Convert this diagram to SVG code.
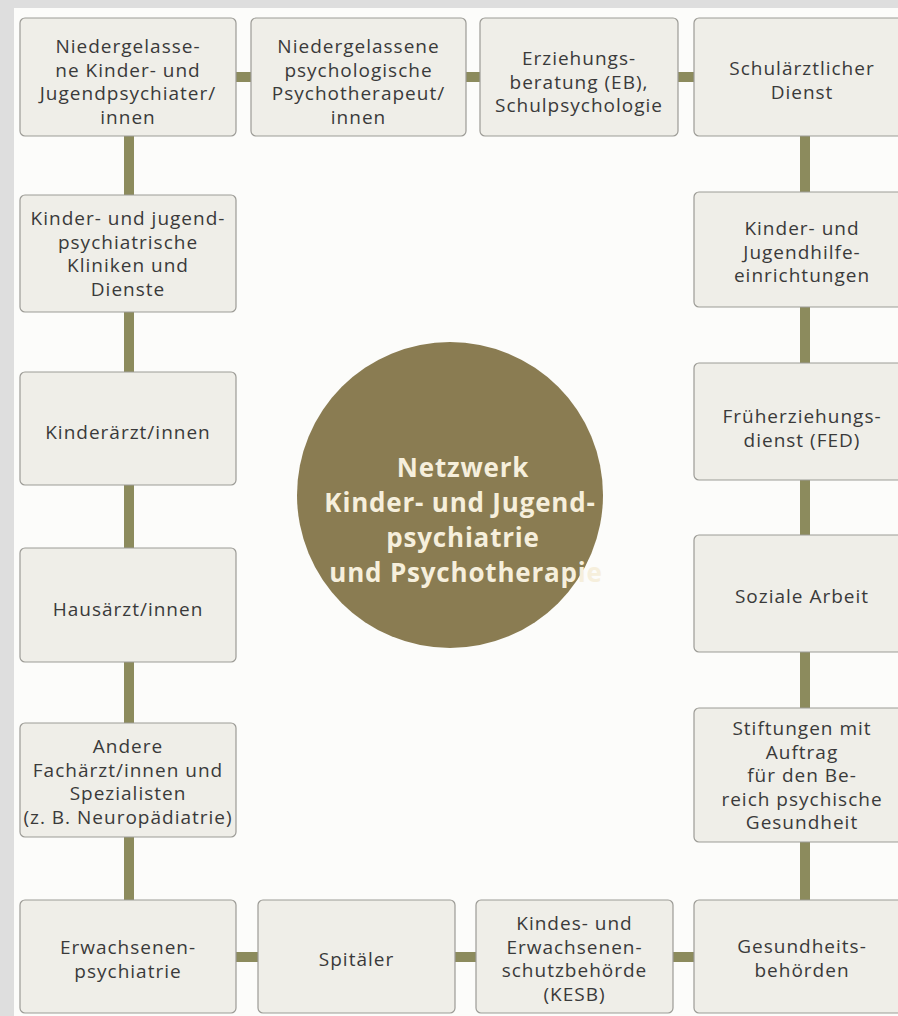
<svg xmlns="http://www.w3.org/2000/svg" width="898" height="1016" viewBox="0 0 898 1016">
<style>
.box{fill:#efeee8;stroke:#9c9b96;stroke-width:1.2}
.t{font-family:"Open Sans","Liberation Sans",sans-serif;font-size:19px;letter-spacing:1px;fill:#3a3a3a;text-anchor:middle}
.c{font-family:"Open Sans","Liberation Sans",sans-serif;font-size:26px;letter-spacing:0.8px;font-weight:bold;fill:#f6efdc;text-anchor:middle}
.con{fill:#8c8b5d}
</style>
<rect x="0" y="0" width="898" height="1016" fill="#dedede"/>
<rect x="14" y="8" width="884" height="1008" fill="#fcfcfa"/>
<g id="connectors">
<rect class="con" x="234" y="72" width="19" height="10"/>
<rect class="con" x="464" y="72" width="18" height="10"/>
<rect class="con" x="676" y="72" width="20" height="10"/>
<rect class="con" x="124" y="134" width="10" height="63"/>
<rect class="con" x="124" y="310" width="10" height="64"/>
<rect class="con" x="124" y="483" width="10" height="67"/>
<rect class="con" x="124" y="660" width="10" height="65"/>
<rect class="con" x="124" y="835" width="10" height="67"/>
<rect class="con" x="800" y="134" width="10" height="60"/>
<rect class="con" x="800" y="305" width="10" height="60"/>
<rect class="con" x="800" y="478" width="10" height="59"/>
<rect class="con" x="800" y="650" width="10" height="60"/>
<rect class="con" x="800" y="840" width="10" height="62"/>
<rect class="con" x="234" y="952" width="26" height="10"/>
<rect class="con" x="453" y="952" width="25" height="10"/>
<rect class="con" x="671" y="952" width="25" height="10"/>
</g>
<g id="n1"><rect class="box" x="20" y="18" width="216" height="118" rx="5"/>
<text class="t" x="128" y="53">Niedergelasse-</text><text class="t" x="128" y="76.5">ne Kinder- und</text><text class="t" x="128" y="100">Jugendpsychiater/</text><text class="t" x="128" y="123.5">innen</text></g>
<g id="n2"><rect class="box" x="251" y="18" width="215" height="118" rx="5"/>
<text class="t" x="358.5" y="53">Niedergelassene</text><text class="t" x="358.5" y="76.5">psychologische</text><text class="t" x="358.5" y="100">Psychotherapeut/</text><text class="t" x="358.5" y="123.5">innen</text></g>
<g id="n3"><rect class="box" x="480" y="18" width="198" height="118" rx="5"/>
<text class="t" x="579" y="65">Erziehungs-</text><text class="t" x="579" y="88.5">beratung (EB),</text><text class="t" x="579" y="112">Schulpsychologie</text></g>
<g id="n4"><rect class="box" x="694" y="18" width="216" height="118" rx="5"/>
<text class="t" x="802" y="75">Schulärztlicher</text><text class="t" x="802" y="98.5">Dienst</text></g>
<g id="n5"><rect class="box" x="20" y="195" width="216" height="117" rx="5"/>
<text class="t" x="128" y="225">Kinder- und jugend-</text><text class="t" x="128" y="248.5">psychiatrische</text><text class="t" x="128" y="272">Kliniken und</text><text class="t" x="128" y="295.5">Dienste</text></g>
<g id="n6"><rect class="box" x="20" y="372" width="216" height="113" rx="5"/>
<text class="t" x="128" y="439">Kinderärzt/innen</text></g>
<g id="n7"><rect class="box" x="20" y="548" width="216" height="114" rx="5"/>
<text class="t" x="128" y="616">Hausärzt/innen</text></g>
<g id="n8"><rect class="box" x="20" y="723" width="216" height="114" rx="5"/>
<text class="t" x="128" y="753">Andere</text><text class="t" x="128" y="776.5">Fachärzt/innen und</text><text class="t" x="128" y="800">Spezialisten</text><text class="t" x="128" y="823.5">(z. B. Neuropädiatrie)</text></g>
<g id="n9"><rect class="box" x="20" y="900" width="216" height="113" rx="5"/>
<text class="t" x="128" y="954">Erwachsenen-</text><text class="t" x="128" y="977.5">psychiatrie</text></g>
<g id="n10"><rect class="box" x="258" y="900" width="197" height="113" rx="5"/>
<text class="t" x="356.5" y="966">Spitäler</text></g>
<g id="n11"><rect class="box" x="476" y="900" width="197" height="113" rx="5"/>
<text class="t" x="574.5" y="930">Kindes- und</text><text class="t" x="574.5" y="953.5">Erwachsenen-</text><text class="t" x="574.5" y="977">schutzbehörde</text><text class="t" x="574.5" y="1000.5">(KESB)</text></g>
<g id="n12"><rect class="box" x="694" y="900" width="216" height="113" rx="5"/>
<text class="t" x="802" y="953">Gesundheits-</text><text class="t" x="802" y="976.5">behörden</text></g>
<g id="n13"><rect class="box" x="694" y="192" width="216" height="115" rx="5"/>
<text class="t" x="802" y="235">Kinder- und</text><text class="t" x="802" y="258.5">Jugendhilfe-</text><text class="t" x="802" y="282">einrichtungen</text></g>
<g id="n14"><rect class="box" x="694" y="363" width="216" height="117" rx="5"/>
<text class="t" x="802" y="423">Früherziehungs-</text><text class="t" x="802" y="446.5">dienst (FED)</text></g>
<g id="n15"><rect class="box" x="694" y="535" width="216" height="117" rx="5"/>
<text class="t" x="802" y="603">Soziale Arbeit</text></g>
<g id="n16"><rect class="box" x="694" y="708" width="216" height="134" rx="5"/>
<text class="t" x="802" y="735">Stiftungen mit</text><text class="t" x="802" y="758.5">Auftrag</text><text class="t" x="802" y="782">für den Be-</text><text class="t" x="802" y="805.5">reich psychische</text><text class="t" x="802" y="829">Gesundheit</text></g>
<g id="center"><circle cx="450" cy="495" r="153" fill="#8a7c52"/>
<text class="c" x="463" y="477">Netzwerk</text><text class="c" x="460" y="512">Kinder- und Jugend-</text><text class="c" x="463" y="547">psychiatrie</text><text class="c" x="466" y="582">und Psychotherapie</text></g>
</svg>
